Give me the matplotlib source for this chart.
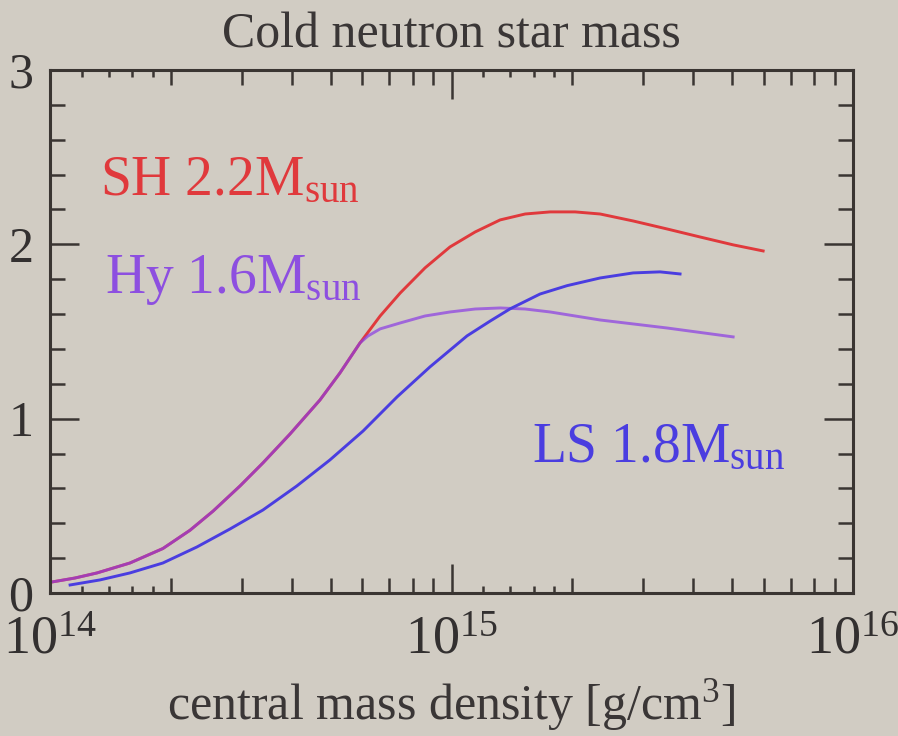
import numpy as np
import matplotlib
matplotlib.use("Agg")
import matplotlib.pyplot as plt
from matplotlib.ticker import FixedLocator, NullFormatter

plt.rcParams['font.family'] = ['Liberation Serif', 'DejaVu Serif']
plt.rcParams['mathtext.fontset'] = 'custom'
plt.rcParams['mathtext.rm'] = 'Liberation Serif'
plt.rcParams['mathtext.it'] = 'Liberation Serif:italic'

# common low-density branch of SH and Hy (identical below ~6e14 g/cm^3)
rho_common = [1.01e14, 1.154e14, 1.309e14, 1.581e14, 1.910e14, 2.232e14, 2.548e14,
              2.973e14, 3.390e14, 3.960e14, 4.701e14, 5.272e14, 5.914e14]
m_common = [0.063, 0.086, 0.115, 0.172, 0.255, 0.360, 0.470,
            0.614, 0.746, 0.912, 1.107, 1.262, 1.434]

# SH upper branch
rho_sh = [6.64e14, 7.45e14, 8.59e14, 9.91e14, 1.145e15, 1.321e15, 1.525e15, 1.760e15,
          2.031e15, 2.344e15, 2.833e15, 3.443e15, 4.160e15, 5.026e15, 5.970e15]
m_sh = [1.589, 1.721, 1.865, 1.985, 2.071, 2.140, 2.174, 2.186,
        2.186, 2.174, 2.134, 2.088, 2.042, 1.997, 1.962]

# Hy upper branch
rho_hy = [6.19e14, 6.64e14, 7.45e14, 8.59e14, 9.91e14, 1.145e15, 1.321e15, 1.525e15,
          1.760e15, 2.344e15, 3.443e15, 5.026e15]
m_hy = [1.474, 1.515, 1.549, 1.589, 1.612, 1.629, 1.635, 1.629,
        1.612, 1.566, 1.520, 1.469]

# LS
rho_ls = [1.122e14, 1.332e14, 1.581e14, 1.910e14, 2.322e14, 2.806e14, 3.390e14,
          4.118e14, 4.977e14, 6.019e14, 7.318e14, 8.836e14, 1.093e15, 1.248e15,
          1.399e15, 1.661e15, 1.940e15, 2.344e15, 2.833e15, 3.305e15, 3.707e15]
m_ls = [0.046, 0.075, 0.115, 0.172, 0.264, 0.367, 0.476,
        0.614, 0.763, 0.929, 1.125, 1.297, 1.475, 1.560,
        1.630, 1.715, 1.763, 1.807, 1.836, 1.842, 1.830]

bg = '#d1ccc3'
red = '#e0393c'
purple = '#8c3fe3'
blue = '#4a3de0'
axc = '#3a3532'

fig = plt.figure(figsize=(8.98, 7.36), dpi=100, facecolor=bg)
ax = fig.add_axes([0.0557, 0.1943, 0.8943, 0.7106], facecolor=bg)

ax.plot(rho_common + rho_sh, m_common + m_sh, color=red, lw=2.1,
        solid_joinstyle='round')
ax.plot(rho_common + rho_hy, m_common + m_hy, color=purple, lw=2.1, alpha=0.72,
        solid_joinstyle='round')
ax.plot(rho_ls, m_ls, color=blue, lw=2.1, solid_joinstyle='round')

ax.set_xscale('log')
ax.set_xlim(1e14, 1e16)
ax.set_ylim(0, 3)

ax.set_xticks([1e14, 1e15, 1e16])
ax.set_xticklabels([r'$\mathregular{10^{14}}$', r'$\mathregular{10^{15}}$',
                    r'$\mathregular{10^{16}}$'])
minor_x = [m * 10.0 ** k for k in (14, 15) for m in range(2, 10)]
ax.xaxis.set_minor_locator(FixedLocator(minor_x))
ax.xaxis.set_minor_formatter(NullFormatter())
ax.set_yticks([0, 1, 2, 3])
ax.set_yticklabels(['0', '1', '2', '3'])
ax.yaxis.set_minor_locator(FixedLocator(np.arange(0.2, 3.0, 0.2)))

ax.tick_params(which='both', direction='in', top=True, right=True,
               color=axc, width=1.8, labelcolor='#333030')
ax.tick_params(which='major', length=21)
ax.tick_params(which='minor', length=11)
ax.tick_params(axis='y', labelsize=36, pad=12)
ax.tick_params(axis='x', labelsize=39, pad=16)
for s in ax.spines.values():
    s.set_color(axc)
    s.set_linewidth(2.2)

# tiny ticks at 1.2 .. 1.8 in each decade
tiny_x = [m * 10.0 ** k for k in (14, 15) for m in (1.2, 1.4, 1.6, 1.8)]
for side in ('bottom', 'top'):
    sec = ax.secondary_xaxis(side)
    sec.set_xticks(tiny_x)
    sec.xaxis.set_minor_locator(FixedLocator([]))
    sec.tick_params(direction='in', length=5, width=1.8, color=axc,
                    labelbottom=False, labeltop=False)
    for s in sec.spines.values():
        s.set_visible(False)

ax.set_title('Cold neutron star mass', fontsize=36, color='#3a3636', pad=16)
ax.set_xlabel(r'central mass density [g/cm$^{\mathregular{3}}$]', fontsize=36,
              color='#3a3636', labelpad=8)

ax.text(1.33e14, 2.28, r'SH 2.2M$_{\mathregular{sun}}$', fontsize=40, color=red)
ax.text(1.37e14, 1.72, r'Hy 1.6M$_{\mathregular{sun}}$', fontsize=40, color='#8d4fe0')
ax.text(1.59e15, 0.75, r'LS 1.8M$_{\mathregular{sun}}$', fontsize=40, color=blue)

fig.savefig('out.png', dpi=100, facecolor=bg)
